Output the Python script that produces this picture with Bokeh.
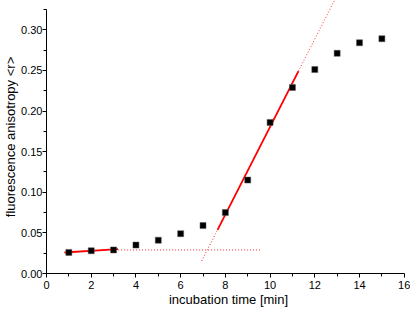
from bokeh.plotting import figure
from bokeh.models import FixedTicker, Range1d, CustomJSTickFormatter
from bokeh.embed import file_html
from bokeh.resources import INLINE

# data
time_min = [1, 2, 3, 4, 5, 6, 7, 8, 9, 10, 11, 12, 13, 14, 15]
anisotropy = [0.026, 0.028, 0.029, 0.035, 0.041, 0.049, 0.059, 0.075,
              0.115, 0.186, 0.229, 0.251, 0.271, 0.284, 0.289]

# linear fits (intercept, slope) and their x spans
base_fit = (0.0245, 0.00168)
base_solid_x = [0.8, 3.2]
base_level = 0.029
base_dotted_x = [3.2, 9.55]
rise_fit = (-0.3594, 0.054)
rise_solid_x = [7.65, 11.27]
rise_dotted_x = [6.94, 13.2]

x_major = [0, 2, 4, 6, 8, 10, 12, 14, 16]
x_minor = [1, 3, 5, 7, 9, 11, 13, 15]
y_major = [0.0, 0.05, 0.10, 0.15, 0.20, 0.25, 0.30]
y_minor = [0.025, 0.075, 0.125, 0.175, 0.225, 0.275, 0.325]

FONT = "Liberation Sans"

p = figure(width=410, height=310, output_backend="svg", toolbar_location=None,
           x_range=Range1d(0, 16.28), y_range=Range1d(0, 0.336),
           min_border_left=45, min_border_right=0, min_border_top=0,
           min_border_bottom=37)
p.outline_line_color = None
p.grid.visible = False

def line_y(fit, xs):
    return [fit[0] + fit[1] * x for x in xs]

p.line(rise_dotted_x, line_y(rise_fit, rise_dotted_x), line_color="#ff3030",
       line_width=1, line_dash="1 2")
p.line(base_dotted_x, [base_level, base_level], line_color="#ff3030",
       line_width=1, line_dash="1 2")
p.line(base_solid_x, line_y(base_fit, base_solid_x), line_color="#ff0000", line_width=1.8)
p.line(rise_solid_x, line_y(rise_fit, rise_solid_x), line_color="#ff0000", line_width=1.8)

p.scatter(time_min, anisotropy, marker="square", size=6, fill_color="black",
          line_color="#555555", line_width=0.5)

for ax in (p.xaxis[0], p.yaxis[0]):
    ax.axis_line_color = "black"
    ax.major_tick_line_color = "black"
    ax.minor_tick_line_color = "black"
    ax.major_tick_out = 4
    ax.major_tick_in = 0
    ax.minor_tick_out = 3
    ax.minor_tick_in = 0
    ax.major_label_text_font = FONT
    ax.major_label_text_font_size = "11px"
    ax.major_label_text_color = "black"
    ax.axis_label_text_font = FONT
    ax.axis_label_text_font_size = "13px"
    ax.axis_label_text_font_style = "normal"
    ax.axis_label_text_color = "black"

p.xaxis.ticker = FixedTicker(ticks=x_major, minor_ticks=x_minor)
p.yaxis.ticker = FixedTicker(ticks=y_major, minor_ticks=y_minor)
p.xaxis.bounds = (0, 16)
p.yaxis.bounds = (0, 0.325)
p.xaxis.axis_label = "incubation time [min]"
p.yaxis.axis_label = "fluorescence anisotropy <r>"
p.xaxis.major_label_standoff = 3
p.yaxis.major_label_standoff = 0
p.xaxis.axis_label_standoff = 0
p.yaxis.axis_label_standoff = 0
p.yaxis.formatter = CustomJSTickFormatter(code="return tick.toFixed(2);")

open("out.html", "w").write(file_html(p, INLINE))
